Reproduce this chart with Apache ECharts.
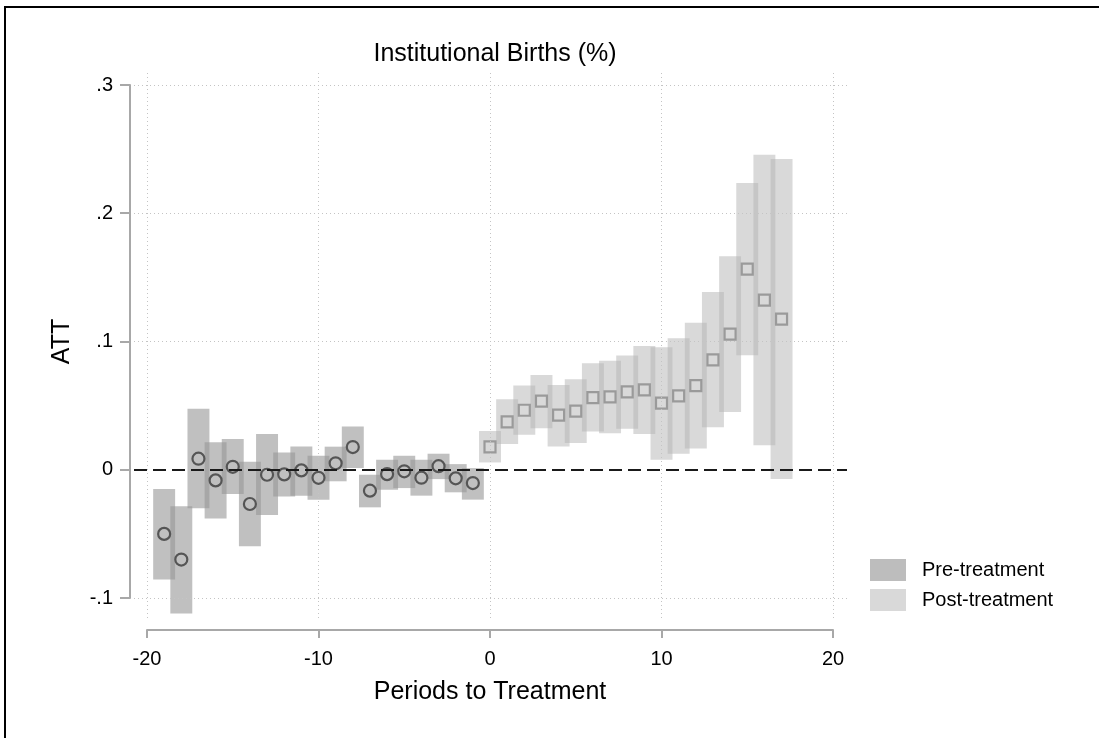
<!DOCTYPE html>
<html><head><meta charset="utf-8">
<script src="https://cdn.jsdelivr.net/npm/echarts@6/dist/echarts.min.js"></script>
<style>html,body{margin:0;padding:0;background:#fff}#c{width:1099px;height:738px}</style>
</head><body><div id="c"></div><script>
// ---- data ----
const preX   = [-19,-18,-17,-16,-15,-14,-13,-12,-11,-10,-9,-8,-7,-6,-5,-4,-3,-2,-1];
const preEst = [-0.050,-0.070,0.0086,-0.0083,0.0023,-0.0267,-0.0039,-0.0036,-0.0005,-0.0063,0.0050,0.0177,-0.0163,-0.0034,-0.0012,-0.0062,0.0028,-0.0067,-0.0104];
const preLo  = [-0.0856,-0.112,-0.030,-0.038,-0.019,-0.0597,-0.0353,-0.0208,-0.0202,-0.0233,-0.009,0.0013,-0.0293,-0.0156,-0.0143,-0.0202,-0.0073,-0.0176,-0.0233];
const preHi  = [-0.015,-0.0285,0.0475,0.0215,0.0239,0.0062,0.0278,0.0135,0.0181,0.011,0.018,0.0337,-0.0039,0.0078,0.0109,0.0078,0.0125,0.0044,0.0013];
const postX   = [0,1,2,3,4,5,6,7,8,9,10,11,12,13,14,15,16,17];
const postEst = [0.0179,0.0374,0.0464,0.0535,0.0426,0.0457,0.0563,0.0568,0.0607,0.0623,0.0519,0.0576,0.0656,0.0856,0.1058,0.1564,0.1323,0.1175];
const postLo  = [0.0057,0.020,0.0272,0.0324,0.0181,0.0208,0.0298,0.0285,0.0319,0.0278,0.0078,0.0125,0.0166,0.0332,0.0451,0.0893,0.0192,-0.0073];
const postHi  = [0.0302,0.055,0.0656,0.0739,0.0661,0.0705,0.083,0.085,0.089,0.0965,0.0955,0.1025,0.1146,0.1385,0.1665,0.2236,0.2457,0.2423];
const xTickVals = [-20,-10,0,10,20];
const xTickLabels = ['-20','-10','0','10','20'];
const yTickVals = [-0.1,0,0.1,0.2,0.3];
const yTickLabels = ['-.1','0','.1','.2','.3'];
const seriesNames = ['Pre-treatment','Post-treatment'];
const titleText = 'Institutional Births (%)';
const xTitle = 'Periods to Treatment';
const yTitle = 'ATT';

// ---- layout / style ----
const FONT = '"Liberation Sans", Arial, Helvetica, sans-serif';
const AX = {left:147, right:833, top:85, bottom:598};      // tick-range pixels
const PR = {left:134, right:847, top:72, bottom:618};      // plot region pixels
const W = 1099, H = 738;
const ppx = (AX.right-AX.left)/40, ppy = (AX.bottom-AX.top)/0.4;
const BAR_W = 1.28;
const AXIS_COLOR = '#a8a8a8';

function lbl(vals, labs){ return v => { let b=0; vals.forEach((t,i)=>{ if(Math.abs(t-v)<Math.abs(vals[b]-v)) b=i; }); return labs[b]; }; }

function barSeries(name, xs, lo, hi, fill, legendColor){
  return {
    type:'custom', name, xAxisIndex:0, yAxisIndex:0, z:2,
    itemStyle:{color:legendColor},
    data: xs.map((x,i)=>[x, lo[i], hi[i]]),
    encode:{x:0, y:[1,2]},
    renderItem(params, api){
      const x = api.value(0);
      const pTop = api.coord([x, api.value(2)]);
      const pBot = api.coord([x, api.value(1)]);
      const w = api.size([BAR_W, 0])[0];
      return {type:'rect', shape:{x:pTop[0]-w/2, y:pTop[1], width:w, height:pBot[1]-pTop[1]}, style:{fill}};
    }
  };
}

const option = {
  animation:false,
  backgroundColor:'#fff',
  title:{text:titleText, left:(AX.left+AX.right)/2, textAlign:'center', top:37,
    textStyle:{fontFamily:FONT, fontSize:25, fontWeight:'normal', color:'#000'}},
  legend:{orient:'vertical', left:865, top:554, itemWidth:36, itemHeight:22, itemGap:8, icon:'rect',
    textStyle:{fontFamily:FONT, fontSize:20, color:'#000', padding:[0,0,0,11]},
    data:[{name:seriesNames[0], itemStyle:{color:'#bdbdbd'}},{name:seriesNames[1], itemStyle:{color:'#d9d9d9'}}]},
  graphic:[{type:'polyline', shape:{points:[[5,H],[5,7],[W,7]]}, style:{stroke:'#000', lineWidth:2, fill:null}, silent:true}],
  grid:[
    {left:PR.left, right:W-PR.right, top:PR.top, bottom:H-PR.bottom},
    {left:AX.left, right:W-AX.right, top:AX.top, bottom:H-AX.bottom}
  ],
  xAxis:[
    {gridIndex:0, type:'value', min:-20-(AX.left-PR.left)/ppx, max:20+(PR.right-AX.right)/ppx,
     axisLine:{show:false}, axisTick:{show:false}, axisLabel:{show:false}, splitLine:{show:false}},
    {gridIndex:1, type:'value', min:-20, max:20, interval:10, offset:32,
     axisLine:{show:true, onZero:false, lineStyle:{color:AXIS_COLOR, width:2}},
     axisTick:{show:true, length:8, lineStyle:{color:AXIS_COLOR, width:2}},
     axisLabel:{fontFamily:FONT, fontSize:20, color:'#000', margin:19, formatter:lbl(xTickVals,xTickLabels)},
     splitLine:{show:false},
     name:xTitle, nameLocation:'middle', nameGap:50,
     nameTextStyle:{fontFamily:FONT, fontSize:25, color:'#000'}}
  ],
  yAxis:[
    {gridIndex:0, type:'value', min:-0.1-(PR.bottom-AX.bottom)/ppy, max:0.3+(AX.top-PR.top)/ppy,
     axisLine:{show:false}, axisTick:{show:false}, axisLabel:{show:false}, splitLine:{show:false}},
    {gridIndex:1, type:'value', min:-0.1, max:0.3, interval:0.1, offset:17,
     axisLine:{show:true, onZero:false, lineStyle:{color:AXIS_COLOR, width:2}},
     axisTick:{show:true, length:10, lineStyle:{color:AXIS_COLOR, width:2}},
     axisLabel:{fontFamily:FONT, fontSize:20, color:'#000', margin:17, formatter:lbl(yTickVals,yTickLabels)},
     splitLine:{show:false},
     name:yTitle, nameLocation:'middle', nameGap:55, nameRotate:90,
     nameTextStyle:{fontFamily:FONT, fontSize:25, color:'#000'}}
  ],
  series:[
    {type:'scatter', xAxisIndex:0, yAxisIndex:0, data:[], z:1, silent:true,
     markLine:{silent:true, symbol:['none','none'], label:{show:false}, animation:false,
       lineStyle:{type:[1,3], color:'#c4c4c4', width:1},
       data:[...xTickVals.map(v=>({xAxis:v})), ...yTickVals.filter(v=>v!==0).map(v=>({yAxis:v}))]}},
    barSeries(seriesNames[0], preX, preLo, preHi, 'rgba(150,150,150,0.6)', '#bdbdbd'),
    barSeries(seriesNames[1], postX, postLo, postHi, 'rgba(179,179,179,0.5)', '#d9d9d9'),
    {type:'scatter', xAxisIndex:0, yAxisIndex:0, data:[], z:3, silent:true,
     markLine:{silent:true, symbol:['none','none'], label:{show:false}, animation:false,
       lineStyle:{type:[13,6], color:'#1a1a1a', width:2.2},
       data:[{yAxis:0}]}},
    {type:'scatter', name:'preEst', xAxisIndex:0, yAxisIndex:0, z:4, symbol:'circle', symbolSize:12,
     itemStyle:{color:'rgba(0,0,0,0)', borderColor:'#555', borderWidth:2.2, opacity:1},
     data:preX.map((x,i)=>[x,preEst[i]])},
    {type:'scatter', name:'postEst', xAxisIndex:0, yAxisIndex:0, z:4, symbol:'rect', symbolSize:11,
     itemStyle:{color:'rgba(0,0,0,0)', borderColor:'#9a9a9a', borderWidth:2.2, opacity:1},
     data:postX.map((x,i)=>[x,postEst[i]])}
  ]
};
const chart = echarts.init(document.getElementById('c'), null, {renderer:'canvas'});
chart.setOption(option);
</script></body></html>
